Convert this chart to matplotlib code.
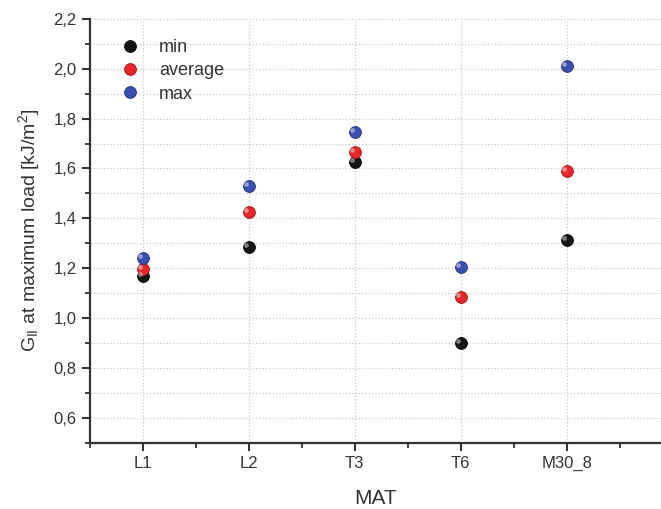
import numpy as np
import matplotlib.pyplot as plt
from matplotlib.ticker import MultipleLocator

plt.rcParams['font.family'] = ['Liberation Sans', 'DejaVu Sans']
plt.rcParams['mathtext.default'] = 'regular'

mats = ['L1', 'L2', 'T3', 'T6', 'M30_8']
g_min = [1.168, 1.286, 1.627, 0.900, 1.314]
g_avg = [1.196, 1.424, 1.668, 1.084, 1.588]
g_max = [1.240, 1.530, 1.746, 1.204, 2.010]

x = np.arange(1, len(mats) + 1)

fig = plt.figure(figsize=(6.61, 5.09), dpi=100)
ax = fig.add_axes([0.136, 0.130, 0.864, 0.833])

series = [('min', g_min, '#151515', '#000000'),
          ('average', g_avg, '#e8262b', '#a01010'),
          ('max', g_max, '#3a4fae', '#1f2c78')]
for lab, vals, c, ec in series:
    ax.plot(x, vals, 'o', color=c, mec=ec, mew=0.6, ms=8.5, label=lab, zorder=3)
    # small highlight to mimic the shaded spheres
    ax.plot(x - 0.03, np.array(vals) + 0.008, 'o', color='white', alpha=0.35, ms=2.5, zorder=4)

ax.set_xlim(0.5, 5.89)
ax.set_ylim(0.5, 2.2)
ax.set_xticks(x)
ax.set_xticklabels(mats)
ax.xaxis.set_minor_locator(MultipleLocator(0.5))
ax.yaxis.set_minor_locator(MultipleLocator(0.1))
ax.set_yticks(np.arange(0.6, 2.21, 0.2))
ax.set_yticklabels([f'{v:.1f}'.replace('.', ',') for v in np.arange(0.6, 2.21, 0.2)])

ax.grid(True, which='major', axis='x', ls=':', color='#c8c8c8', lw=0.9)
ax.grid(True, which='both', axis='y', ls=':', color='#c8c8c8', lw=0.9)
ax.set_axisbelow(True)

for s in ['top', 'right']:
    ax.spines[s].set_visible(False)
for s in ['left', 'bottom']:
    ax.spines[s].set_linewidth(1.6)
    ax.spines[s].set_color('#333333')

ax.tick_params(which='major', direction='out', length=6, width=1.5, colors='#333333',
               labelsize=12, labelcolor='#333333')
ax.tick_params(which='minor', direction='out', length=3.5, width=1.3, colors='#333333')

ax.set_xlabel('MAT', fontsize=15, color='#333333', labelpad=13)
ax.set_ylabel('G$_{II}$ at maximum load [kJ/m$^{2}$]', fontsize=14, color='#333333', labelpad=8)

leg = ax.legend(loc='upper left', frameon=False, fontsize=13, handletextpad=1.0,
                labelspacing=0.35, borderaxespad=0.6, handlelength=1.2,
                bbox_to_anchor=(0.02, 0.995))
for t in leg.get_texts():
    t.set_color('#333333')

fig.savefig('out.png', dpi=100)
